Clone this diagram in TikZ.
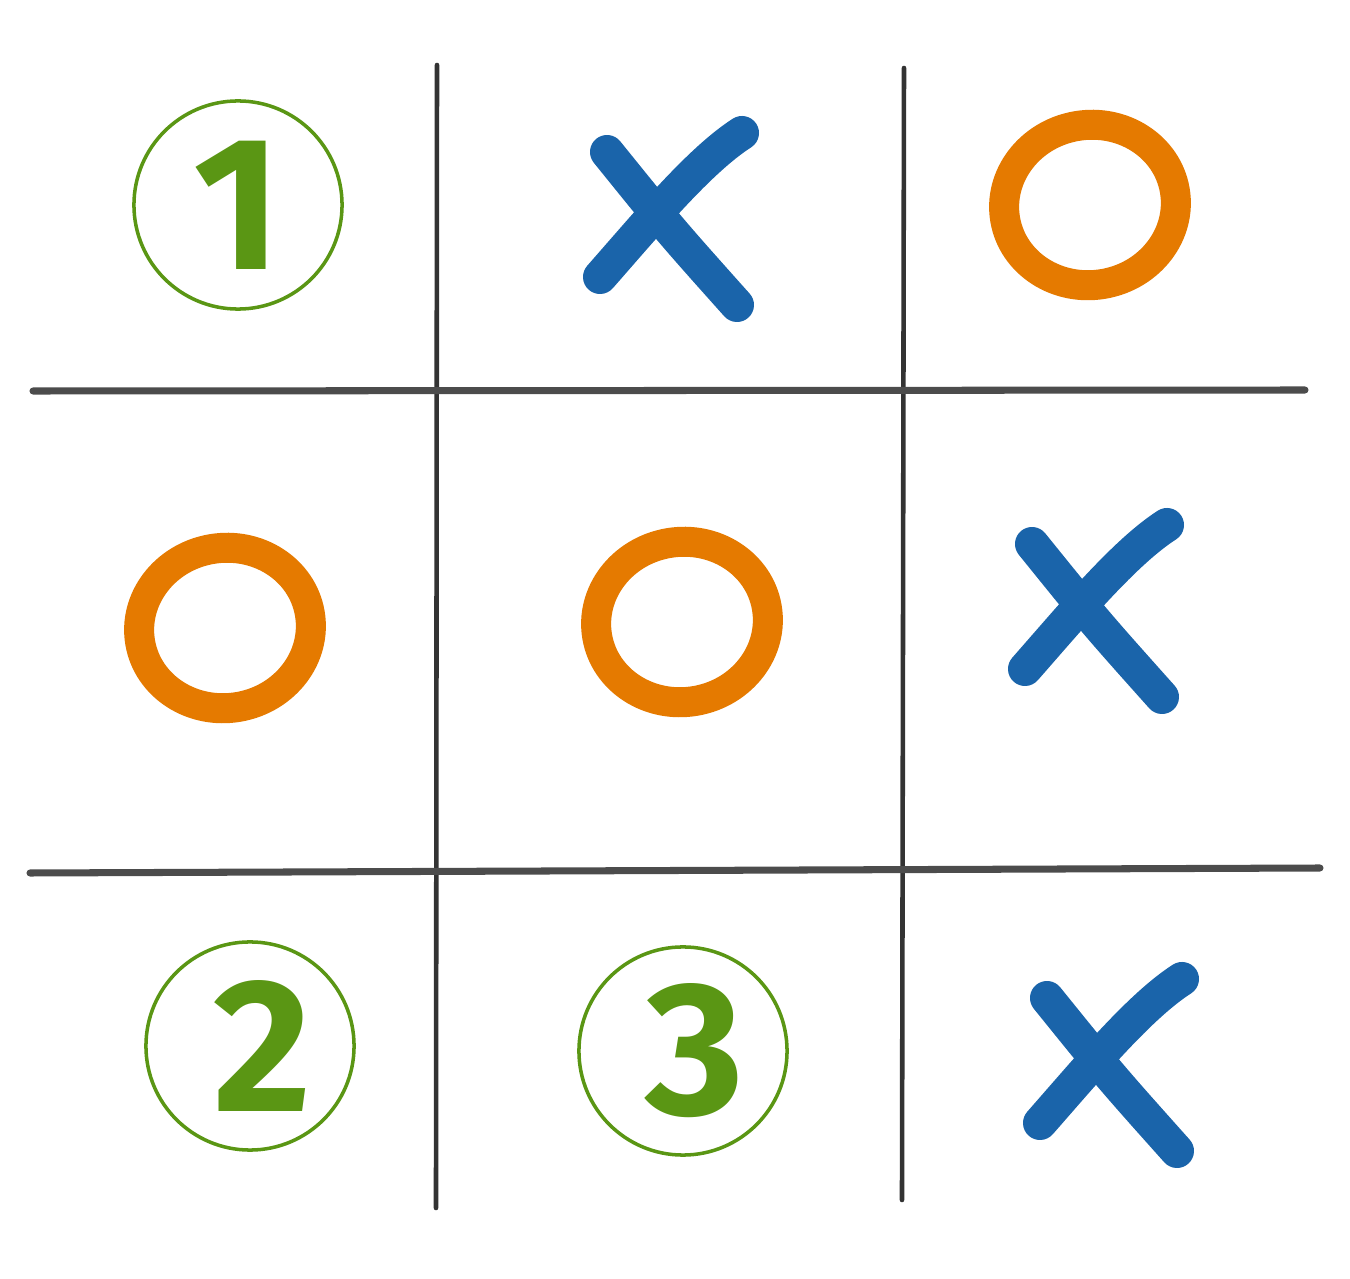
\documentclass[tikz,border=0pt]{standalone}
\usepackage{fontspec}
\setsansfont{Fira Sans}
\usepackage{tikz}
\usetikzlibrary{shapes.geometric}

\definecolor{penGreen}{HTML}{5A9614}
\definecolor{penBlue}{HTML}{1A64AA}
\definecolor{penOrange}{HTML}{E57A00}

\tikzset{
  gridline/.style={black!80,line width=1.3pt,line cap=round},
  gridrule/.style={black!70,line width=2pt,line cap=round},
  numring/.style={circle,draw=penGreen,line width=1pt,minimum size=2.08cm,inner sep=0pt,
    text=penGreen,font=\sffamily\bfseries\fontsize{54}{54}\selectfont},
  omark/.style={ellipse,draw=penOrange,line width=.3cm,minimum width=1.72cm,minimum height=1.6cm},
  xstroke/.style={penBlue,line width=.34cm,line cap=round},
  xmark/.pic={
    \draw[xstroke] (-63,-68) .. controls (0,10) .. (67,85);
    \draw[xstroke] (72,-87) .. controls (30,-60) and (-20,0) .. (-70,57);
  }
}

\begin{document}
\begin{tikzpicture}[x=0.01cm,y=-0.01cm]
  \useasboundingbox (0,0) rectangle (1350,1279);

  % grid
  \coordinate (v1a) at (437,65);   \coordinate (v1b) at (436,1208);
  \coordinate (v2a) at (904,68);   \coordinate (v2b) at (902,1200);
  \coordinate (h1a) at (33,391);   \coordinate (h1b) at (1305,390);
  \coordinate (h2a) at (30,873);   \coordinate (h2b) at (1320,868);
  \draw[gridline] (v1a) -- (v1b);
  \draw[gridline] (v2a) -- (v2b);
  \draw[gridrule] (h1a) -- (h1b);
  \draw[gridrule] (h2a) -- (h2b);

  % top row
  \node[numring] (n1) at (238,205) {1};
  \pic (x1) at (670,220) {xmark};
  \node[omark,rotate=10] (o1) at (1090,205) {};

  % middle row
  \node[omark,rotate=10] (o2) at (225,628) {};
  \node[omark,rotate=10] (o3) at (682,622) {};
  \pic (x2) at (1095,612) {xmark};

  % bottom row
  \node[numring] (n2) at (250,1046) {\hspace{7pt}2};
  \node[numring] (n3) at (683,1051) {\hspace{7pt}3};
  \pic (x3) at (1110,1066) {xmark};
\end{tikzpicture}
\end{document}
